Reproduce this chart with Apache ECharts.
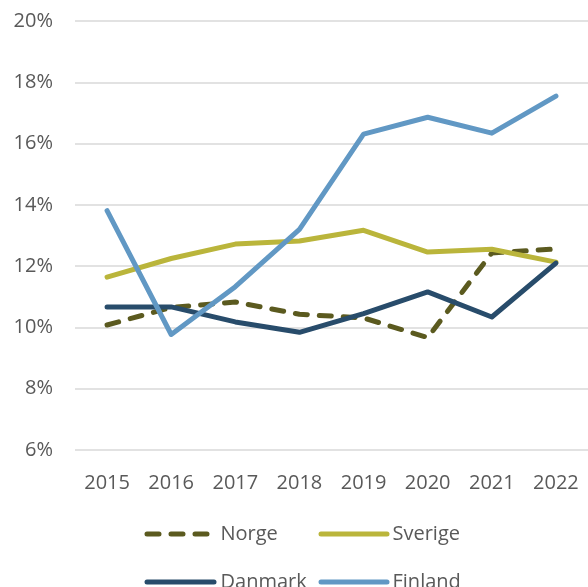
<!DOCTYPE html>
<html><head><meta charset="utf-8">
<script src="https://cdn.jsdelivr.net/npm/echarts@6/dist/echarts.min.js"></script>
<style>html,body{margin:0;padding:0;background:#fff}#c{width:588px;height:587px}</style>
</head><body><div id="c"></div>
<script>
const years = ['2015','2016','2017','2018','2019','2020','2021','2022'];
const norge = [10.08, 10.65, 10.83, 10.43, 10.31, 9.67, 12.43, 12.56];
const sverige = [11.64, 12.25, 12.72, 12.82, 13.17, 12.46, 12.55, 12.13];
const danmark = [10.67, 10.67, 10.18, 9.84, 10.45, 11.16, 10.34, 12.10];
const finland = [13.81, 9.77, 11.33, 13.2, 16.31, 16.86, 16.34, 17.55];
const yTicks = [6, 8, 10, 12, 14, 16, 18, 20];

const colors = {Norge:'#5b5a1f', Sverige:'#bab53b', Danmark:'#284c6b', Finland:'#6198c4'};
const font = '"Open Sans", sans-serif';
const txt = '#595959';

function mkSeries(name, data, dashed){
  return {name, type:'line', data, symbol:'none', smooth:false,
    lineStyle:{width:5, color:colors[name], type: dashed ? [12,12] : 'solid', cap:'round', join:'round'},
    itemStyle:{color:colors[name]}, emphasis:{disabled:true}};
}
function mkLegend(name, left, top, w, pad){
  return {data:[name], left, top, padding:0, orient:'horizontal', itemWidth:w, itemHeight:14, itemGap:0,
    textStyle:{fontFamily:font, fontSize:20, color:txt, padding:[0,0,0,pad]},
    itemStyle:{opacity:0},
    lineStyle:{width:5, cap:'round'}, selectedMode:false};
}
const chart = echarts.init(document.getElementById('c'), null, {renderer:'canvas'});
chart.setOption({
  animation:false,
  backgroundColor:'#fff',
  grid:{left:75, right:-8, top:21, bottom:137, containLabel:false},
  xAxis:{type:'category', data:years, boundaryGap:true,
    axisLine:{show:false}, axisTick:{show:false},
    axisLabel:{fontFamily:font, fontSize:20, color:txt, margin:23}},
  yAxis:{type:'value', min:yTicks[0], max:yTicks[yTicks.length-1], interval:2,
    axisLine:{show:false}, axisTick:{show:false},
    splitLine:{lineStyle:{color:'#d9d9d9', width:1.5}},
    axisLabel:{fontFamily:font, fontSize:20, color:txt, margin:22, formatter:'{value}%'}},
  legend:[
    mkLegend('Norge', 144.5, 524, 60, 8.5),
    mkLegend('Sverige', 318.5, 524, 66, 0.5),
    mkLegend('Danmark', 144.5, 572, 67, 1.5),
    mkLegend('Finland', 318.5, 572, 66, 0.5)
  ],
  series:[
    mkSeries('Norge', norge, true),
    mkSeries('Sverige', sverige, false),
    mkSeries('Danmark', danmark, false),
    mkSeries('Finland', finland, false)
  ]
});
</script></body></html>
